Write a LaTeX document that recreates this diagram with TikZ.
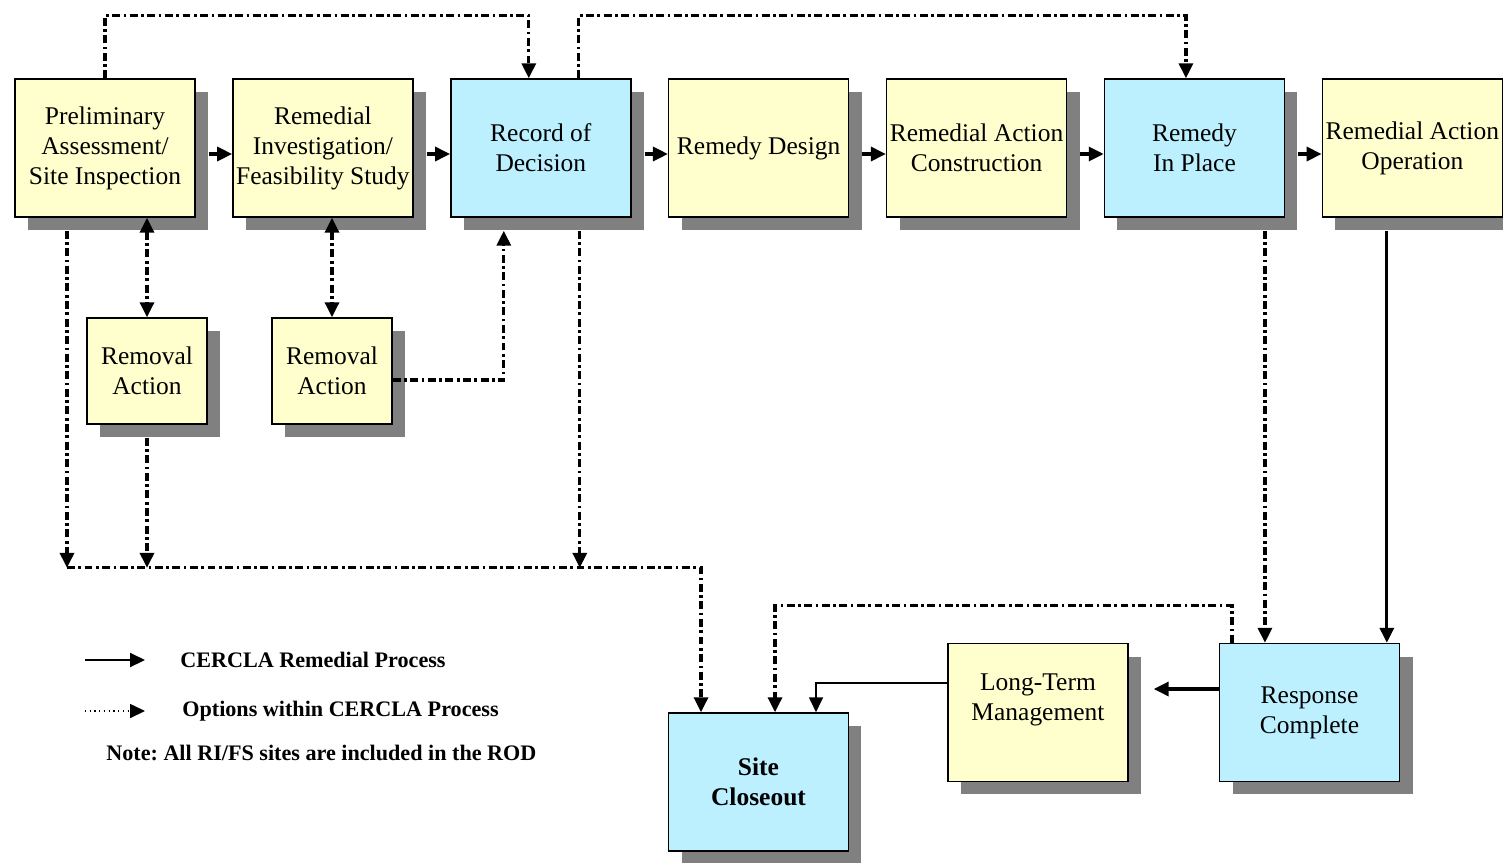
\documentclass[tikz,border=0pt]{standalone}
\usepackage{fontspec}
\setmainfont{Liberation Serif}
\usepackage{tikz}
\usetikzlibrary{calc}
\usetikzlibrary{positioning}
\usetikzlibrary{shadows}
\usetikzlibrary{arrows.meta}
\definecolor{stage yellow}{RGB}{255,255,206}
\definecolor{key blue}{RGB}{188,240,255}
\definecolor{shadow gray}{RGB}{128,128,128}
\newcommand{\boxfont}{\fontsize{14.5}{17.07}\selectfont}
\newcommand{\keyfont}{\fontsize{12.6}{15}\selectfont\bfseries}
\frenchspacing

\begin{document}
\begin{tikzpicture}[x=0.02cm, y=-0.02cm, node distance=0.727cm, align=center, font=\boxfont,
    >={Triangle[length=8.5pt, width=8pt]},
    box/.style={draw, line width=0.9pt, minimum width=3.6cm, minimum height=2.76cm, inner sep=1pt,
        general shadow={fill=shadow gray, shadow xshift=0.26cm, shadow yshift=-0.26cm}},
    stage/.style={box, fill=stage yellow},
    keystep/.style={box, fill=key blue},
    small stage/.style={stage, minimum width=2.4cm, minimum height=2.12cm},
    flow/.style={->, line width=1.8pt},
    option/.style={->, line width=1.8pt, dash pattern=on 4.5pt off 2pt on 1.5pt off 2pt},
    legend/.style={font=\keyfont, inner sep=0, anchor=west}]

\useasboundingbox (0,0) rectangle (1503,862);

\draw
    (105,148) node [stage, name=pa si] {Preliminary\\Assessment/\\Site Inspection}
    node [stage, right=of pa si, name=ri fs] {Remedial\\Investigation/\\Feasibility Study}
    node [keystep, right=of ri fs, name=rod] {Record of\\Decision}
    node [stage, right=of rod, name=design] {Remedy Design}
    node [stage, right=of design, name=ra construction] {Remedial Action\\Construction}
    node [keystep, right=of ra construction, name=rip] {Remedy\\In Place}
    node [stage, right=of rip, name=ra operation] {Remedial Action\\Operation}
;

\draw
    (147,371) node [small stage, name=removal pa] {Removal\\Action}
    (332,371) node [small stage, name=removal ri] {Removal\\Action}
    (758.5,782) node [keystep, font=\boxfont\bfseries, name=closeout] {Site\\Closeout}
    (1309.5,712.5) node [keystep, name=complete] {Response\\Complete}
    node [stage, left=1.8cm of complete, name=ltm] {Long-Term\\Management\\~}
;

\draw
    (180,660) node [legend, name=key flow] {CERCLA Remedial Process}
    (182,711) node [legend, name=key option] {Options within CERCLA Process}
    (106,753) node [legend, name=key note] {Note: All RI/FS sites are included in the ROD}
;

\coordinate (p1) at ($(pa si.north)+(0,-63)$);
\coordinate (p2) at ($(rod.north)+(38,-63)$);
\coordinate (bus west) at ($(pa si.south)+(-38,350)$);
\coordinate (p3) at ($(rip.south)+(70.5,13)$);
\coordinate (p4) at ($(ra operation.south)+(-25.5,13)$);
\coordinate (p5) at ($(complete.north)+(-77.5,-37)$);

%% main process
\draw[flow] ($(pa si.east)+(13,6)$) -- ($(ri fs.west)+(0,6)$);
\draw[flow] ($(ri fs.east)+(13,6)$) -- ($(rod.west)+(0,6)$);
\draw[flow] ($(rod.east)+(13,6)$) -- ($(design.west)+(0,6)$);
\draw[flow] ($(design.east)+(13,6)$) -- ($(ra construction.west)+(0,6)$);
\draw[flow] ($(ra construction.east)+(13,6)$) -- ($(rip.west)+(0,6)$);
\draw[flow] ($(rip.east)+(13,6)$) -- ($(ra operation.west)+(0,6)$);
\draw[flow] (p4) -- (p4 |- complete.north);
\draw[flow] ($(complete.west)+(0,-23.5)$) -- ($(ltm.east)+(25,-23.5)$);
\draw[->, line width=0.8pt] ($(ltm.west)+(0,-29.5)$) -| ($(closeout.north)+(57.5,0)$);

%% options
\draw[option] (pa si.north) -- (p1) -| ($(rod.north)+(-12,0)$);
\draw[option] ($(rod.north)+(38,0)$) -- (p2) -| ($(rip.north)+(-8.5,0)$);
\draw[option, <->] (removal pa.north |- pa si.south) -- (removal pa.north);
\draw[option, <->] (removal ri.north |- ri fs.south) -- (removal ri.north);
\draw[option] ($(removal ri.east)+(0,9)$) -| ($(rod.south)+(-37,13)$);

\draw[option] ($(pa si.south)+(-38,13)$) -- (bus west);
\draw[option] ($(removal pa.south)+(0,13)$) -- (removal pa.south |- bus west);
\draw[option] ($(rod.south)+(39,13)$) -- ($(rod.south)+(39,350)$);
\draw[option] (bus west) -| ($(closeout.north)+(-57.5,0)$);

\draw[option] (p3) -- (p3 |- complete.north);
\draw[option] ($(complete.north)+(-77.5,0)$) -- (p5) -| ($(closeout.north)+(16.5,0)$);

%% legend
\draw[->, line width=0.9pt] ($(key flow.west)+(-95,0)$) -- ($(key flow.west)+(-35,0)$);
\draw[->, line width=0.7pt, dotted] ($(key option.west)+(-97,0)$) -- ($(key option.west)+(-37,0)$);

\end{tikzpicture}
\end{document}
